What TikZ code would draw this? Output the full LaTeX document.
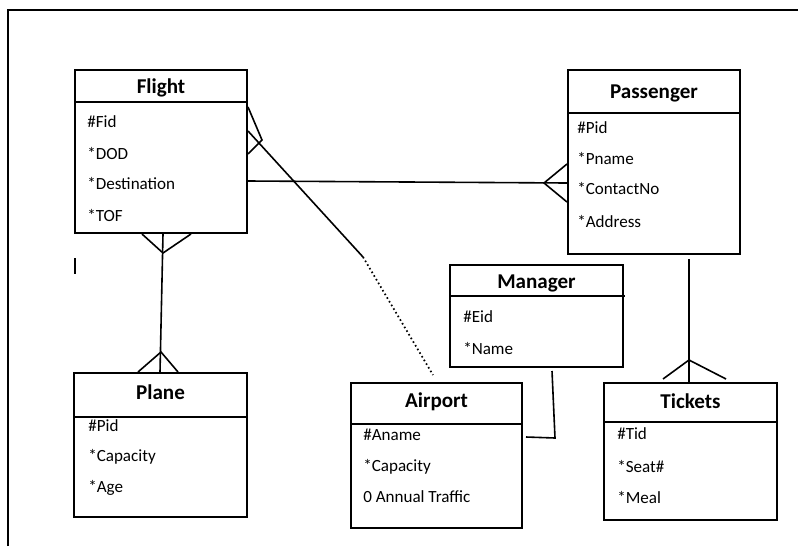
\documentclass[tikz,border=0pt]{standalone}
\usepackage{fontspec}
\setmainfont{Carlito}
\usetikzlibrary{calc}
\begin{document}
\begin{tikzpicture}[x=0.75pt,y=-0.75pt,
  entbox/.style={draw=black,line width=1.5pt,fill=none,inner sep=0pt},
  divider/.style={line width=1.5pt},
  enttitle/.style={font=\fontsize{15.8}{18}\selectfont\bfseries,inner sep=0pt},
  attr/.style={font=\fontsize{12.8}{15}\selectfont,anchor=west,inner sep=0pt},
  link/.style={line width=1.2pt},
  toe/.style={line width=1.2pt},
  frameline/.style={line width=1.5pt}]
\useasboundingbox (0,0) rectangle (798,546);

% page frame
\coordinate (fa) at (8,546);
\coordinate (fb) at (8,10);
\coordinate (fc) at (798,10);
\draw[frameline] (fa) -- (fb) -- (fc);

% ---------- Flight ----------
\node[entbox,minimum width=129pt,minimum height=122.25pt] (flight) at (161,151.5) {};
\draw[divider] (75,102) -- (247,102);
\node[enttitle] (flightT) at (161,88) {Flight};
\node[attr] (f1) at (87,122) {\#Fid};
\node[attr] (f2) at (87,153) {*DOD};
\node[attr] (f3) at (87,184) {*Destination};
\node[attr] (f4) at (87,215) {*TOF};

% ---------- Passenger ----------
\node[entbox,minimum width=129pt,minimum height=138pt] (pass) at (654,162) {};
\draw[divider] (568,113) -- (740,113);
\node[enttitle] (passT) at (654,93) {Passenger};
\node[attr] (p1) at (577,128) {\#Pid};
\node[attr] (p2) at (577,159) {*Pname};
\node[attr] (p3) at (577,189) {*ContactNo};
\node[attr] (p4) at (577,221) {*Address};

% ---------- Manager ----------
\node[entbox,minimum width=129.75pt,minimum height=76.5pt] (mgr) at (536.5,316) {};
\draw[divider] (450,296) -- (625,296);
\node[enttitle] (mgrT) at (536.5,283) {Manager};
\node[attr] (m1) at (463,317) {\#Eid};
\node[attr] (m2) at (463,348) {*Name};

% ---------- Airport ----------
\node[entbox,minimum width=128.25pt,minimum height=108.75pt] (airport) at (436.5,455.5) {};
\draw[divider] (351,424) -- (522,424);
\node[enttitle] (airT) at (436.5,402) {Airport};
\node[attr] (a1) at (363,435) {\#Aname};
\node[attr] (a2) at (363,467) {*Capacity};
\node[attr] (a3) at (363,497) {0 Annual Traffic};

% ---------- Plane ----------
\node[entbox,minimum width=129.75pt,minimum height=108pt] (plane) at (160.5,445) {};
\draw[divider] (74,417) -- (247,417);
\node[enttitle] (planeT) at (160.5,392) {Plane};
\node[attr] (l1) at (88,426) {\#Pid};
\node[attr] (l2) at (88,457) {*Capacity};
\node[attr] (l3) at (88,488) {*Age};

% ---------- Tickets ----------
\node[entbox,minimum width=129.75pt,minimum height=102.75pt] (tick) at (690.5,451.5) {};
\draw[divider] (604,422) -- (777,422);
\node[enttitle] (tickT) at (690.5,401) {Tickets};
\node[attr] (t1) at (617,434) {\#Tid};
\node[attr] (t2) at (617,466) {*Seat\#};
\node[attr] (t3) at (617,497) {*Meal};

% ---------- Flight -- Airport (solid, then dotted) ----------
\coordinate (fA0) at ($(flight.north east)+(0,62)$);
\coordinate (fA1) at ($(flight.north east)+(0,38)$);
\coordinate (fA2) at ($(flight.north east)+(0,85)$);
\coordinate (fAk) at ($(flight.north east)+(14,71)$);
\coordinate (fAm) at (363,257);
\coordinate (fAe) at (433,375);
\draw[link] (fA0) -- (fAm);
\draw[link,dotted,line width=1.3pt] (fAm) -- (fAe);
\draw[toe] (fA1) -- (fAk) -- (fA2);

% ---------- Flight -- Passenger ----------
\coordinate (fP0) at ($(flight.north east)+(0,112)$);
\coordinate (pF0) at ($(pass.north west)+(0,114)$);
\coordinate (pFk) at ($(pass.north west)+(-23,114)$);
\coordinate (pF1) at ($(pass.north west)+(0,95)$);
\coordinate (pF2) at ($(pass.north west)+(0,133)$);
\draw[link] (fP0) -- (pF0);
\draw[toe] (pF1) -- (pFk) -- (pF2);

% ---------- Flight -- Plane ----------
\coordinate (fL0) at ($(flight.south west)+(89,0)$);
\coordinate (lF0) at ($(plane.north west)+(87,0)$);
\coordinate (fLk) at ($(flight.south west)+(89,19)$);
\coordinate (fL1) at ($(flight.south west)+(68,0)$);
\coordinate (fL2) at ($(flight.south west)+(117,0)$);
\coordinate (lFk) at ($(plane.north west)+(88,-20)$);
\coordinate (lF1) at ($(plane.north west)+(65,0)$);
\coordinate (lF2) at ($(plane.north west)+(105,0)$);
\draw[link] (fL0) -- (lF0);
\draw[toe] (fL1) -- (fLk) -- (fL2);
\draw[toe] (lF1) -- (lFk) -- (lF2);

% ---------- Passenger -- Tickets ----------
\coordinate (pT0) at ($(pass.south west)+(122,4)$);
\coordinate (tP0) at ($(tick.north west)+(86,0)$);
\coordinate (tPk) at ($(tick.north west)+(86,-22)$);
\coordinate (tP1) at ($(tick.north west)+(60,-3)$);
\coordinate (tP2) at ($(tick.north west)+(123,-3)$);
\draw[link] (pT0) -- (tP0);
\draw[toe] (tP1) -- (tPk) -- (tP2);

% ---------- Manager -- Airport ----------
\coordinate (mA0) at ($(mgr.south west)+(103,3)$);
\coordinate (mAk) at (555,438);
\coordinate (aM0) at ($(airport.north east)+(3,55)$);
\draw[link] (mA0) -- (mAk) -- (aM0);

% stray tick mark
\coordinate (s1) at (75,258);
\coordinate (s2) at (75,274);
\draw[line width=1pt] (s1) -- (s2);
\end{tikzpicture}
\end{document}
